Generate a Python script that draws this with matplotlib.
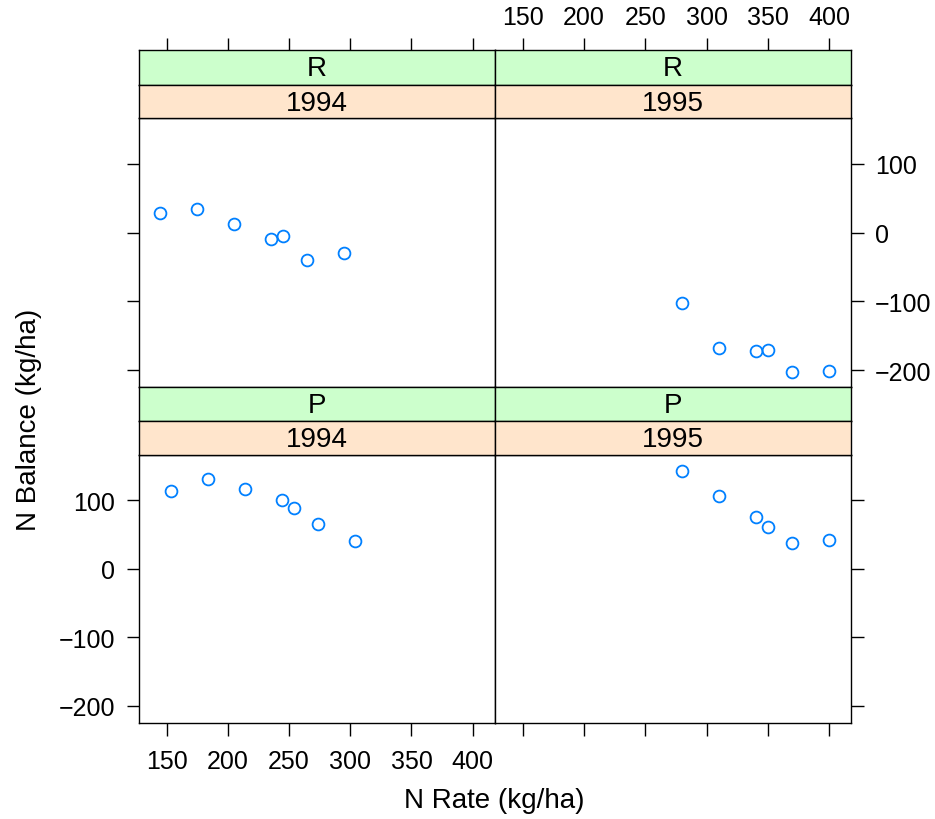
import matplotlib
matplotlib.use("Agg")
import matplotlib.pyplot as plt

plt.rcParams['font.family'] = ['Liberation Sans', 'DejaVu Sans']

# N balance vs N rate, by crop (R/P) and year
rate_R94 = [145, 175, 205, 235, 245, 265, 295]
bal_R94 = [28, 34, 13, -10, -5, -40, -30]
rate_R95 = [280, 310, 340, 350, 370, 400]
bal_R95 = [-102, -168, -172, -171, -202, -201]
rate_P94 = [154, 184, 214, 244, 254, 274, 304]
bal_P94 = [114, 131, 116, 100, 89, 66, 40]
rate_P95 = [280, 310, 340, 350, 370, 400]
bal_P95 = [143, 106, 76, 61, 38, 42]

crops = ["R", "P"]
years = ["1994", "1995"]
xticks = [150, 200, 250, 300, 350, 400]
yticks = [-200, -100, 0, 100]

panels = {
    ("R", "1994"): (rate_R94, bal_R94),
    ("R", "1995"): (rate_R95, bal_R95),
    ("P", "1994"): (rate_P94, bal_P94),
    ("P", "1995"): (rate_P95, bal_P95),
}

W, H = 935, 820
fig = plt.figure(figsize=(W / 100, H / 100), dpi=100)


def box(x0, y0, x1, y1):
    return [x0 / W, 1 - y1 / H, (x1 - x0) / W, (y1 - y0) / H]


cols = [(138.7, 495.0), (495.0, 851.3)]
# (strip1 top, strip2 top, plot top, plot bottom)
rows = [(51.0, 85.7, 119.3, 388.0), (388.0, 422.0, 456.0, 723.7)]

xlim = (127.3, 418.2)
ylim = (-224.5, 166.0)
lw = 1.0
tick_kw = dict(length=9, width=lw, pad=8, labelsize=18, direction="out")

for r, crop in enumerate(crops):
    s1, s2, p0, p1 = rows[r]
    for c, year in enumerate(years):
        x0, x1 = cols[c]
        ax = fig.add_axes(box(x0, p0, x1, p1))
        xs, ys = panels[(crop, year)]
        ax.plot(xs, ys, linestyle="none", marker="o", markersize=8.5,
                markerfacecolor="none", markeredgecolor="#0080ff",
                markeredgewidth=1.3)
        ax.set_xlim(*xlim)
        ax.set_ylim(*ylim)
        for sp in ax.spines.values():
            sp.set_linewidth(lw)
        ax.set_xticks(xticks)
        ax.set_yticks(yticks)
        ax.tick_params(axis="both", **tick_kw)
        ax.tick_params(axis="x", pad=10)
        # alternating axes: bottom row x ticks, left/right y ticks
        ax.tick_params(axis="x", bottom=(r == 1), labelbottom=(r == 1 and c == 0),
                       top=False, labeltop=False)
        ax.tick_params(axis="y", left=(c == 0), labelleft=(c == 0 and r == 1),
                       right=(c == 1), labelright=(c == 1 and r == 0))

        # strips
        for (t0, t1), label, color in [((s1, s2), crop, "#ccffcc"),
                                        ((s2, p0), year, "#ffe5cc")]:
            sa = fig.add_axes(box(x0, t0, x1, t1))
            sa.set_facecolor(color)
            sa.set_xlim(*xlim)
            sa.set_yticks([])
            for sp in sa.spines.values():
                sp.set_linewidth(lw)
            sa.text(0.5, 0.47, label, transform=sa.transAxes, ha="center",
                    va="center", fontsize=20)
            if r == 0 and label == crop:
                sa.set_xticks(xticks)
                sa.tick_params(axis="x", **tick_kw)
                sa.tick_params(axis="x", pad=6, bottom=False, labelbottom=False,
                               top=True, labeltop=(c == 1))
            else:
                sa.set_xticks([])

fig.text(494 / W, 1 - 801 / H, "N Rate (kg/ha)", ha="center", va="center",
         fontsize=20)
fig.text(29 / W, 1 - 420 / H, "N Balance (kg/ha)", ha="center", va="center",
         rotation=90, fontsize=20)

fig.savefig("out.png", dpi=100)
